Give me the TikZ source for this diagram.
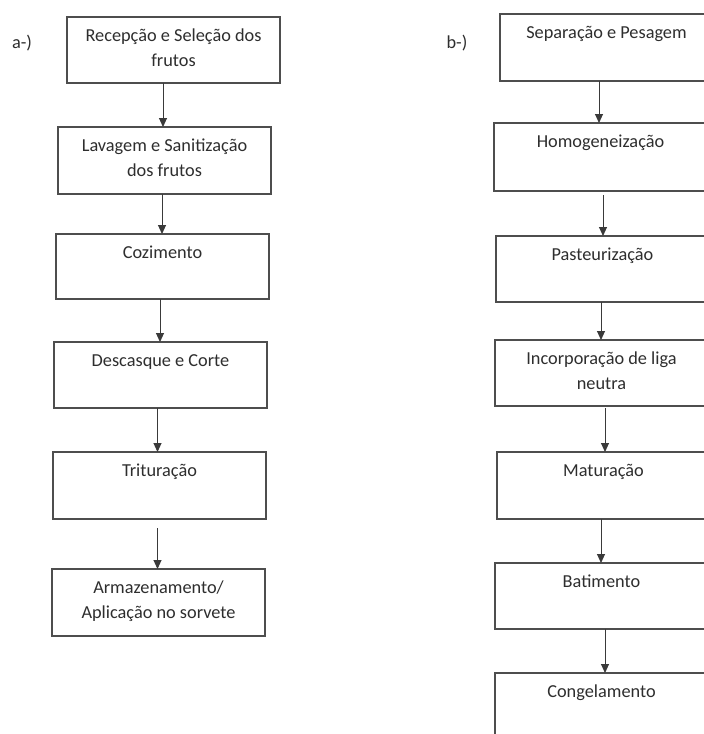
\documentclass[tikz,border=0pt]{standalone}
\usepackage{fontspec}
\setmainfont{Carlito}
\usetikzlibrary{arrows.meta}
\definecolor{txt}{HTML}{2E2E2E}
\definecolor{framec}{HTML}{4E4E4E}
\definecolor{arrc}{HTML}{3A3A3A}
\newcommand{\bx}[2]{\parbox[c][#1pt][t]{213pt}{\centering\fontsize{18.3}{24.5}\selectfont\rule{0pt}{24.5pt}#2}}
\begin{document}
\begin{tikzpicture}[x=1pt,y=-1pt,
  stepbox/.style={draw=framec,line width=1.5pt,inner sep=0pt,outer sep=0pt,anchor=north west,text=txt},
  arr/.style={draw=arrc,line width=1pt,-{Triangle[width=8pt,length=9pt]}},
  lbl/.style={text=txt,font=\fontsize{18.3}{20}\selectfont,inner sep=0pt}]
\useasboundingbox (0,0) rectangle (704,734);
\clip (0,0) rectangle (704,734);
\fill[white] (0,0) rectangle (704,734);

\node[lbl] (la) at (22,43) {a-)};
\node[lbl] (lb) at (457,43) {b-)};

% left column
\node[stepbox] (a1) at (67,17)  {\bx{66}{Recepção e Seleção dos\\frutos}};
\node[stepbox] (a2) at (58,127) {\bx{67}{Lavagem e Sanitização\\dos frutos}};
\node[stepbox] (a3) at (56,234) {\bx{65}{Cozimento}};
\node[stepbox] (a4) at (54,342) {\bx{66}{Descasque e Corte}};
\node[stepbox] (a5) at (53,452) {\bx{67}{Trituração}};
\node[stepbox] (a6) at (52,569) {\bx{67}{Armazenamento/\\Aplicação no sorvete}};

% right column
\node[stepbox] (b1) at (500,14)  {\bx{67}{Separação e Pesagem}};
\node[stepbox] (b2) at (494,123) {\bx{68}{Homogeneização}};
\node[stepbox] (b3) at (496,236) {\bx{66}{Pasteurização}};
\node[stepbox] (b4) at (495,340) {\bx{66}{Incorporação de liga\\neutra}};
\node[stepbox] (b5) at (497,452) {\bx{67}{Maturação}};
\node[stepbox] (b6) at (495,563) {\bx{66}{Batimento}};
\node[stepbox] (b7) at (495,673) {\bx{66}{Congelamento}};

% left arrows
\draw[arr] ([xshift=-10.5pt]a1.south) -- ([xshift=-10.5pt]a1.south |- a2.north);
\draw[arr] ([xshift=-2.5pt]a2.south) -- ([xshift=-2.5pt]a2.south |- a3.north);
\draw[arr] ([xshift=-2.5pt]a3.south) -- ([xshift=-2.5pt]a3.south |- a4.north);
\draw[arr] ([xshift=-3pt]a4.south) -- ([xshift=-3pt]a4.south |- a5.north);
\draw[arr] ([xshift=-2pt,yshift=-9pt]a5.south) -- ([xshift=-2pt]a5.south |- a6.north);

% right arrows
\draw[arr] ([xshift=-7.5pt]b1.south) -- ([xshift=-7.5pt]b1.south |- b2.north);
\draw[arr] ([xshift=2.5pt,yshift=-4pt]b2.south) -- ([xshift=2.5pt]b2.south |- b3.north);
\draw[arr] ([xshift=-1.5pt]b3.south) -- ([xshift=-1.5pt]b3.south |- b4.north);
\draw[arr] ([xshift=3.5pt,yshift=-2pt]b4.south) -- ([xshift=3.5pt]b4.south |- b5.north);
\draw[arr] ([xshift=-2.5pt]b5.south) -- ([xshift=-2.5pt]b5.south |- b6.north);
\draw[arr] ([xshift=3.5pt]b6.south) -- ([xshift=3.5pt]b6.south |- b7.north);
\end{tikzpicture}
\end{document}
